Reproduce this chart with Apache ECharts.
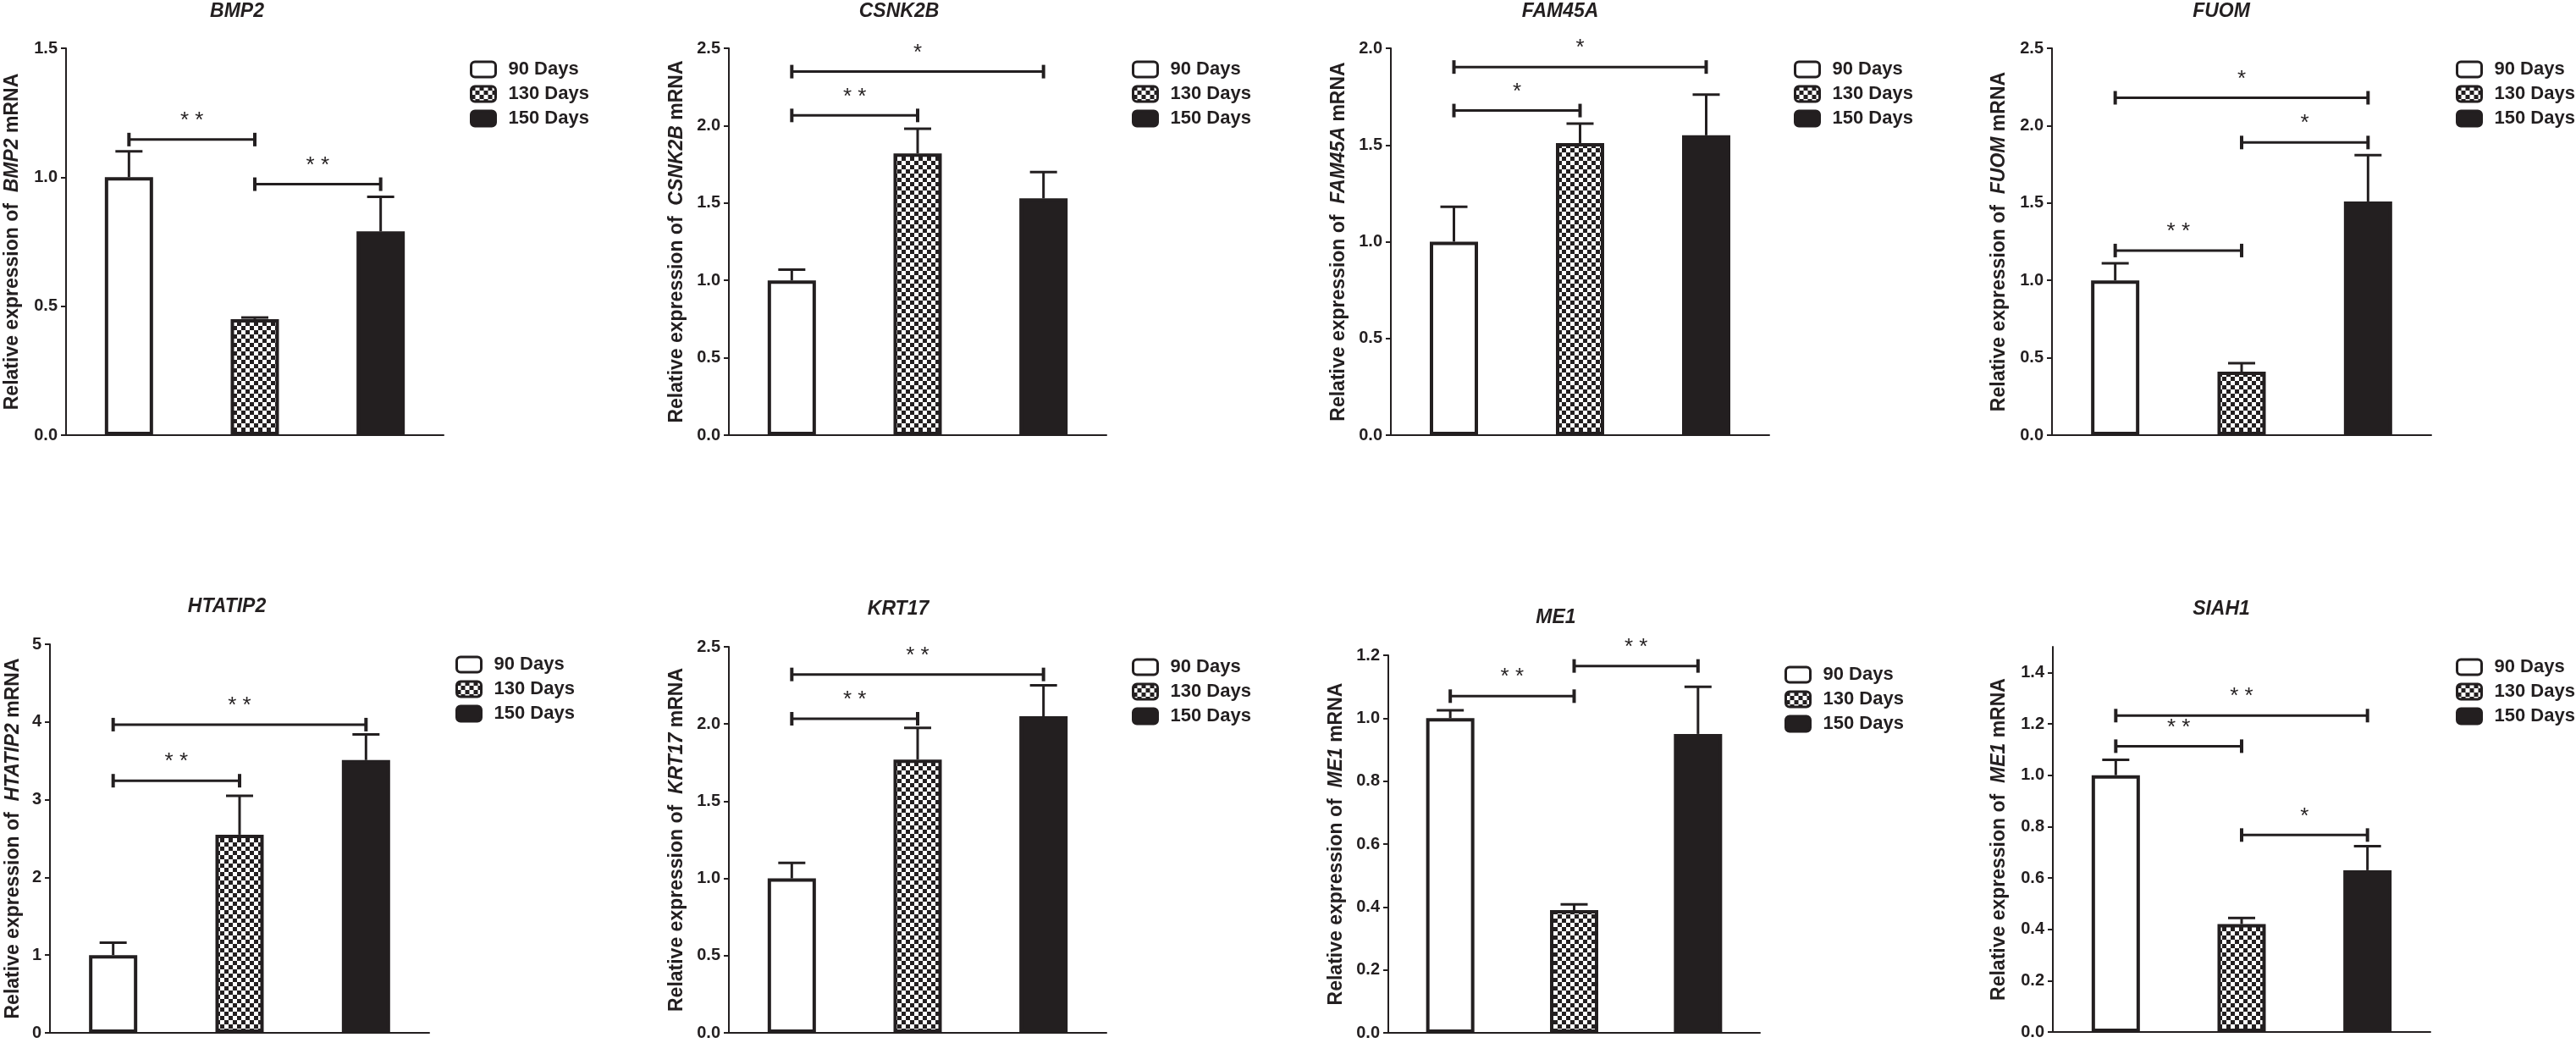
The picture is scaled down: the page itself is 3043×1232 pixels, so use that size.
<!DOCTYPE html>
<html>
<head>
<meta charset="UTF-8">
<script src="https://cdn.jsdelivr.net/npm/echarts@6/dist/echarts.min.js"></script>
<style>
    html, body {margin: 0; padding: 0; background: #fff;}
    #chart {width: 3043px; height: 1232px;}
</style>
</head>
<body>
<div id="chart"></div>
<script>
    // ---- data ----
    var genes = ['BMP2', 'CSNK2B', 'FAM45A', 'FUOM', 'HTATIP2', 'KRT17', 'ME1', 'SIAH1'];
    var axisGenes = ['BMP2', 'CSNK2B', 'FAM45A', 'FUOM', 'HTATIP2', 'KRT17', 'ME1', 'ME1'];
    var groups = ['90 Days', '130 Days', '150 Days'];

    var mean90 = [1.00, 1.00, 1.00, 1.00, 1.00, 1.00, 1.00, 1.00];
    var sem90 = [0.10, 0.07, 0.18, 0.11, 0.16, 0.10, 0.025, 0.06];
    var mean130 = [0.45, 1.82, 1.51, 0.41, 2.55, 1.77, 0.39, 0.42];
    var sem130 = [0.006, 0.16, 0.10, 0.055, 0.50, 0.205, 0.018, 0.024];
    var mean150 = [0.79, 1.53, 1.55, 1.51, 3.51, 2.05, 0.95, 0.63];
    var sem150 = [0.134, 0.17, 0.21, 0.30, 0.33, 0.20, 0.15, 0.094];

    var yMax = [1.5, 2.5, 2.0, 2.5, 5, 2.5, 1.2, 1.5];
    var yStep = [0.5, 0.5, 0.5, 0.5, 1, 0.5, 0.2, 0.2];
    var yTicks = [
        [0, 0.5, 1.0, 1.5],
        [0, 0.5, 1.0, 1.5, 2.0, 2.5],
        [0, 0.5, 1.0, 1.5, 2.0],
        [0, 0.5, 1.0, 1.5, 2.0, 2.5],
        [0, 1, 2, 3, 4, 5],
        [0, 0.5, 1.0, 1.5, 2.0, 2.5],
        [0, 0.2, 0.4, 0.6, 0.8, 1.0, 1.2],
        [0, 0.2, 0.4, 0.6, 0.8, 1.0, 1.2, 1.4]
    ];

    // significance: [panel, from group, to group, height, mark]
    var brackets = [
        [0, 0, 1, 1.146, '* *'], [0, 1, 2, 0.973, '* *'],
        [1, 0, 1, 2.066, '* *'], [1, 0, 2, 2.349, '*'],
        [2, 0, 1, 1.678, '*'], [2, 0, 2, 1.903, '*'],
        [3, 0, 1, 1.193, '* *'], [3, 1, 2, 1.891, '*'], [3, 0, 2, 2.180, '*'],
        [4, 0, 1, 3.244, '* *'], [4, 0, 2, 3.966, '* *'],
        [5, 0, 1, 2.034, '* *'], [5, 0, 2, 2.321, '* *'],
        [6, 0, 1, 1.070, '* *'], [6, 1, 2, 1.166, '* *'],
        [7, 0, 1, 1.113, '* *'], [7, 0, 2, 1.232, '* *'], [7, 1, 2, 0.767, '*']
    ];

    // ---- layout (px) ----
    // left, right, top, bottom of each plot area
    var panels = [
        [78, 524, 57, 514], [861, 1307, 57, 514], [1643, 2090, 57, 514], [2424, 2872, 57, 514],
        [59, 507, 761, 1220], [861, 1307, 764, 1220], [1640, 2079, 774, 1220], [2425, 2871, 764, 1219]
    ];
    var titlePos = [[280, 14], [1062, 14], [1843, 14], [2624, 14], [268, 717], [1061, 720], [1838, 730], [2624, 720]];
    var legendPos = [[550, 66], [1332, 66], [2114, 66], [2896, 66], [533, 769], [1332, 772], [2103, 781], [2896, 772]];
    var nameGaps = [52, 50, 50, 51, 32, 50, 50, 52];

    var dark = '#231f20';
    var font = '"Liberation Sans", Arial, sans-serif';

    // checkerboard fill for 130 Days
    var checker = document.createElement('canvas');
    checker.width = 10;
    checker.height = 10;
    var ctx = checker.getContext('2d');
    ctx.fillStyle = '#fff';
    ctx.fillRect(0, 0, 10, 10);
    ctx.fillStyle = dark;
    ctx.fillRect(0, 0, 5, 5);
    ctx.fillRect(5, 5, 5, 5);
    var fills = ['#ffffff', {image: checker, repeat: 'repeat'}, dark];

    var means = [mean90, mean130, mean150];
    var sems = [sem90, sem130, sem150];

    var chart = echarts.init(document.getElementById('chart'));

    var grids = [], xAxes = [], yAxes = [], series = [], legends = [], graphics = [];

    function renderErr(params, api) {
        var x = api.value(0), m = api.value(1), s = api.value(2);
        var base = api.coord([x, m]);
        var top = api.coord([x, m + s]);
        var st = {stroke: dark, lineWidth: 3};
        return {
            type: 'group',
            children: [
                {type: 'line', shape: {x1: base[0], y1: base[1], x2: top[0], y2: top[1]}, style: st},
                {type: 'line', shape: {x1: top[0] - 16, y1: top[1], x2: top[0] + 16, y2: top[1]}, style: st}
            ]
        };
    }

    function makeBracketRenderer(marks) {
        return function (params, api) {
            var h = api.value(2);
            var a = api.coord([api.value(0), h]);
            var b = api.coord([api.value(1), h]);
            var st = {stroke: dark, lineWidth: 3};
            return {
                type: 'group',
                children: [
                    {type: 'line', shape: {x1: a[0], y1: a[1], x2: b[0], y2: b[1]}, style: st},
                    {type: 'line', shape: {x1: a[0], y1: a[1] - 8, x2: a[0], y2: a[1] + 8}, style: {stroke: dark, lineWidth: 4}},
                    {type: 'line', shape: {x1: b[0], y1: b[1] - 8, x2: b[0], y2: b[1] + 8}, style: {stroke: dark, lineWidth: 4}},
                    {
                        type: 'text',
                        style: {
                            text: marks[params.dataIndex],
                            x: (a[0] + b[0]) / 2, y: a[1] - 22,
                            fill: dark, fontSize: 26, fontFamily: font,
                            align: 'center', verticalAlign: 'middle'
                        }
                    }
                ]
            };
        };
    }

    for (var p = 0; p < genes.length; p++) {
        var box = panels[p];
        grids.push({left: box[0], top: box[2], width: box[1] - box[0], height: box[3] - box[2]});

        xAxes.push({
            type: 'category', gridIndex: p, data: groups,
            axisLine: {lineStyle: {color: dark, width: 2}},
            axisTick: {show: false}, axisLabel: {show: false}
        });

        var dec = yStep[p] >= 1 ? 0 : 1;
        yAxes.push({
            type: 'value', gridIndex: p, min: 0, max: yMax[p], interval: yStep[p],
            name: 'Relative expression of  {g|' + axisGenes[p] + '} mRNA',
            nameLocation: 'middle', nameGap: nameGaps[p],
            nameTextStyle: {
                color: dark, fontSize: 23, fontWeight: 'bold', fontFamily: font,
                rich: {g: {color: dark, fontSize: 23, fontWeight: 'bold', fontStyle: 'italic', fontFamily: font}}
            },
            axisLine: {show: true, lineStyle: {color: dark, width: 2}},
            axisTick: {show: true, length: 6, lineStyle: {color: dark, width: 2}, customValues: yTicks[p]},
            splitLine: {show: false},
            axisLabel: {
                margin: 10, color: dark, fontSize: 20, fontWeight: 'bold', fontFamily: font,
                customValues: yTicks[p],
                formatter: (function (d) {
                    return function (v) { return Number(v).toFixed(d); };
                })(dec)
            }
        });

        for (var g = 0; g < 3; g++) {
            var d = ['-', '-', '-'];
            d[g] = means[g][p];
            series.push({
                type: 'bar', name: groups[g], xAxisIndex: p, yAxisIndex: p,
                data: d, barWidth: 57, barGap: '-100%',
                itemStyle: {color: fills[g], borderColor: dark, borderWidth: 4},
                silent: true
            });
        }

        var errData = [];
        for (var k = 0; k < 3; k++) {
            errData.push([k, means[k][p], sems[k][p]]);
        }
        series.push({
            type: 'custom', xAxisIndex: p, yAxisIndex: p, z: 5, silent: true,
            encode: {x: 0, y: 1},
            renderItem: renderErr, data: errData
        });

        var bData = [], marks = [];
        for (var j = 0; j < brackets.length; j++) {
            if (brackets[j][0] === p) {
                bData.push([brackets[j][1], brackets[j][2], brackets[j][3]]);
                marks.push(brackets[j][4]);
            }
        }
        series.push({
            type: 'custom', xAxisIndex: p, yAxisIndex: p, z: 5, silent: true,
            encode: {x: [0, 1], y: 2},
            renderItem: makeBracketRenderer(marks), data: bData
        });

        legends.push({
            orient: 'vertical', left: legendPos[p][0], top: legendPos[p][1],
            data: groups, icon: 'roundRect', itemWidth: 29, itemHeight: 18, itemGap: 7,
            selectedMode: false,
            itemStyle: {borderColor: dark, borderWidth: 3},
            textStyle: {color: dark, fontSize: 22, fontWeight: 'bold', fontFamily: font, padding: [0, 0, 0, 10]}
        });

        graphics.push({
            type: 'text', x: titlePos[p][0], y: titlePos[p][1],
            style: {
                text: genes[p], fill: dark, fontSize: 23, fontWeight: 'bold', fontStyle: 'italic',
                fontFamily: font, align: 'center', verticalAlign: 'middle'
            }
        });
    }

    chart.setOption({
        animation: false,
        backgroundColor: '#ffffff',
        grid: grids,
        xAxis: xAxes,
        yAxis: yAxes,
        legend: legends,
        graphic: graphics,
        series: series
    });
</script>
</body>
</html>
